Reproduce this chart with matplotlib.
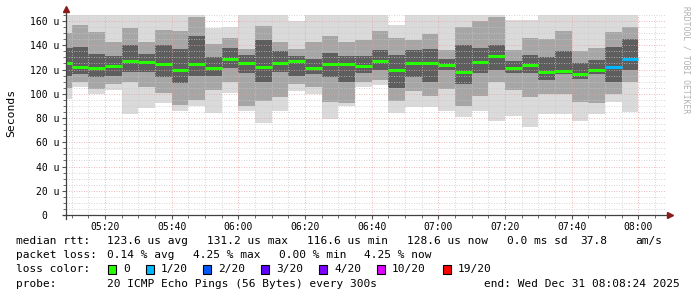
import matplotlib
matplotlib.use('Agg')
import matplotlib.pyplot as plt
from matplotlib.patches import Rectangle

plt.rcParams['font.family'] = ['DejaVu Sans Mono']

# --- data (values in microseconds) ---
col_end = ["05:10", "05:15", "05:20", "05:25", "05:30", "05:35", "05:40", "05:45",
           "05:50", "05:55", "06:00", "06:05", "06:10", "06:15", "06:20", "06:25",
           "06:30", "06:35", "06:40", "06:45", "06:50", "06:55", "07:00", "07:05",
           "07:10", "07:15", "07:20", "07:25", "07:30", "07:35", "07:40", "07:45",
           "07:50", "07:55", "08:00"]
median = [125.7, 121.8, 121.3, 122.9, 127.0, 126.5, 124.3, 119.6, 124.3, 121.0,
          128.7, 125.4, 122.4, 125.4, 127.4, 121.6, 124.9, 124.3, 122.7, 127.4,
          120.0, 125.7, 125.7, 123.7, 118.0, 126.0, 131.2, 121.6, 123.7, 118.3,
          119.1, 116.6, 120.0, 121.8, 128.6]
ping_max = [170, 170, 170, 170, 170, 170, 170, 170, 170, 154.5,
            155, 170, 170, 170, 159.7, 170, 170, 170, 170, 170,
            156.4, 170, 170, 170, 170, 170, 170, 161, 160.5, 170,
            170, 170, 170, 170, 170]
ping_q90 = [150, 157, 151, 143, 154, 143, 153, 152, 163, 141,
            146, 137, 156, 143, 137, 143, 148, 143, 144, 152,
            146, 144, 149, 136, 155, 160, 163, 136, 146, 145,
            152, 135, 138, 151, 155]
ping_q75 = [138, 139, 133, 131, 140, 133, 140, 137, 148, 130,
            138, 132, 144, 135, 131, 129, 134, 131, 131, 136,
            132, 136, 137, 129, 140, 138, 140, 127, 132, 130,
            135, 125, 128, 139, 145]
ping_q25 = [115, 116, 114, 115, 118, 118, 114, 109, 115, 115,
            121, 117, 110, 118, 115, 116, 114, 110, 117, 120,
            105, 114, 110, 120, 108, 117, 120, 117, 117, 111,
            116, 112, 116, 110, 120]
ping_q10 = [105, 110, 104, 108, 110, 106, 101, 91, 95, 103,
            110, 90, 94, 97, 108, 106, 93, 92, 110, 111,
            94, 102, 98, 104, 90, 98, 110, 103, 97, 100,
            100, 93, 92, 100, 110]
ping_min = [95.5, 106, 99.6, 102.9, 83.4, 88.3, 92, 86.2, 90.3, 84.5,
            101, 85.6, 75.5, 85.6, 102, 99.9, 79.3, 89.7, 106, 107,
            84.2, 89.2, 89.2, 85.6, 80.9, 85.6, 77.6, 81.8, 72.7, 83.7,
            83.7, 77.4, 83.7, 93.3, 85]
loss = [0] * 33 + [1, 1]

loss_labels = ["0", "1/20", "2/20", "3/20", "4/20", "10/20", "19/20"]
loss_colors = ["#26ff00", "#00b8ff", "#0059ff", "#5e00ff", "#7e00ff", "#dd00ff", "#ff0000"]
loss_steps = [0, 1, 2, 3, 4, 10, 19]

x_ticks = ["05:20", "05:40", "06:00", "06:20", "06:40", "07:00", "07:20", "07:40", "08:00"]
y_ticks = [0, 20, 40, 60, 80, 100, 120, 140, 160]


def minutes(s):
    h, m = s.split(":")
    return int(h) * 60 + int(m)


t_start = 5 * 60 + 8.4
t_end = 8 * 60 + 8.4
ymax = 165

W, H = 697, 297
fig = plt.figure(figsize=(W / 100, H / 100), dpi=100)
fig.patch.set_facecolor('white')
ax = fig.add_axes([66.3 / W, (H - 215) / H, 600 / W, 200 / H])

# smoke: light outer band, mid band, dark core
for i, t in enumerate(col_end):
    right = minutes(t)
    left = max(right - 5, t_start)
    w = right - left
    for lo, hi, c in [(ping_min[i], ping_max[i], '#dadada'),
                      (ping_q10[i], ping_q90[i], '#a6a6a6'),
                      (ping_q25[i], ping_q75[i], '#5e5e5e')]:
        ax.bar(left, hi - lo, width=w, bottom=lo, align='edge',
               color=c, linewidth=0, zorder=1)
    # loss colour for the median line
    k = max(j for j, s in enumerate(loss_steps) if loss[i] >= s)
    ax.hlines(median[i], left, right, colors=loss_colors[k], lw=2.2, zorder=3)

ax.set_xlim(t_start, t_end)
ax.set_ylim(0, ymax)

ax.set_xticks([minutes(s) for s in x_ticks])
ax.set_xticklabels(x_ticks)
ax.set_xticks(range(310, 490, 5), minor=True)
ax.set_yticks(y_ticks)
ax.set_yticklabels([f"{v} u" if v else "0  " for v in y_ticks])
ax.set_yticks(range(0, 166, 5), minor=True)

ax.set_axisbelow(False)
ax.grid(which='minor', color='#c8c8c8', linestyle=(0, (1, 2)), lw=0.6)
ax.grid(which='major', color='#e8a0a0', linestyle=(0, (1, 2)), lw=0.6)

ax.tick_params(which='both', direction='out', color='#555555', labelsize=7, pad=2)
ax.tick_params(which='major', length=3)
ax.tick_params(which='minor', length=2)

for s in ['top', 'right', 'left', 'bottom']:
    ax.spines[s].set_visible(False)

# axis lines with arrows
ax.plot([0, 0], [-0.02, 1.02], transform=ax.transAxes, color='#404040', lw=0.9, clip_on=False, zorder=4)
ax.plot([-0.005, 1.005], [0, 0], transform=ax.transAxes, color='#404040', lw=0.9, clip_on=False, zorder=4)
ax.plot([0], [1.03], marker='^', ms=4, color='#8b1a1a', transform=ax.transAxes, clip_on=False, zorder=5)
ax.plot([1.006], [0], marker='>', ms=4, color='#8b1a1a', transform=ax.transAxes, clip_on=False, zorder=5)

fig.text(11 / W, 1 - 113 / H, "Seconds", rotation=90, fontsize=8.2, ha='center', va='center')
fig.text(686 / W, 1 - 60 / H, "RRDTOOL / TOBI OETIKER", rotation=270, fontsize=5.8,
         color='#b0b0b0', ha='center', va='center')

fs = 8


def put(x, y, s, **kw):
    fig.text(x / W, 1 - y / H, s, fontsize=fs, va='center', **kw)


# legend block
put(16, 241, "median rtt:")
for x, s in zip([107, 207, 307, 407, 507, 580, 635],
                ["123.6 us avg", "131.2 us max", "116.6 us min", "128.6 us now",
                 "0.0 ms sd", "37.8", "am/s"]):
    put(x, 241, s)

put(16, 255, "packet loss:")
for x, s in zip([107, 193, 279, 364],
                ["0.14 % avg", "4.25 % max", "0.00 % min", "4.25 % now"]):
    put(x, 255, s)

put(16, 269, "loss color:")
for x, lab, c in zip([108, 146, 203, 261, 319, 377, 443], loss_labels, loss_colors):
    fig.patches.append(Rectangle((x / W, 1 - 273.5 / H), 8 / W, 9 / H,
                                 facecolor=c, edgecolor='black', lw=0.8,
                                 transform=fig.transFigure, figure=fig))
    put(x + 15, 269, lab)

put(16, 284, "probe:")
put(107, 284, "20 ICMP Echo Pings (56 Bytes) every 300s")
put(680, 284, "end: Wed Dec 31 08:08:24 2025", ha='right')

fig.savefig('out.png', dpi=100)
